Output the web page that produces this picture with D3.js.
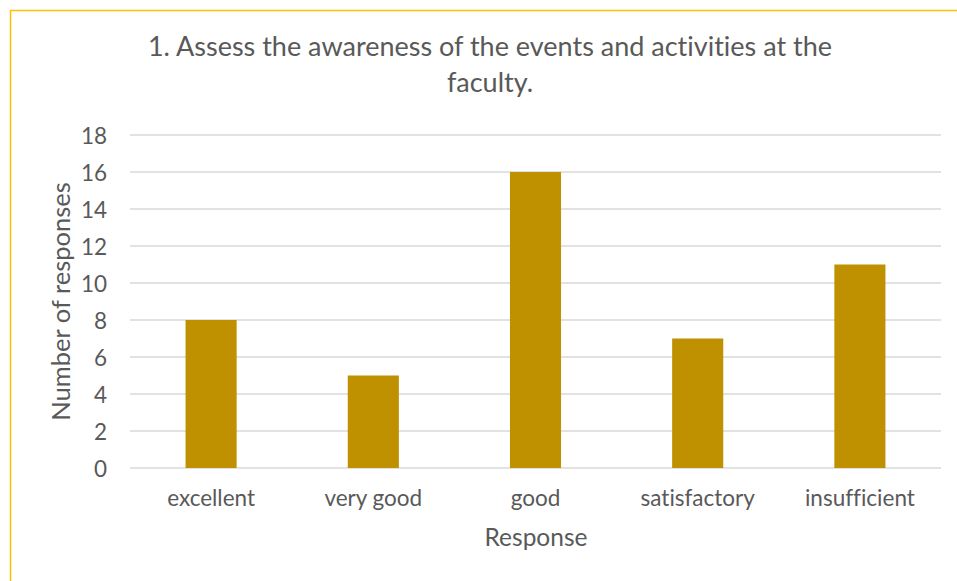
<!DOCTYPE html>
<html>
<head>
<meta charset="utf-8">
<script src="https://cdn.jsdelivr.net/npm/d3@7"></script>
<style>
  body { margin: 0; background: #ffffff; }
  svg text { font-family: Lato, "Open Sans", sans-serif; fill: #595959; font-variant-ligatures: none; }
</style>
</head>
<body>
<div id="chart"></div>
<script>
// Data
var categories = ["excellent", "very good", "good", "satisfactory", "insufficient"];
var responses = [8, 5, 16, 7, 11];
var yTicks = [0, 2, 4, 6, 8, 10, 12, 14, 16, 18];

var titleLines = ["1. Assess the awareness of the events and activities at the", "faculty."];
var xTitle = "Response";
var yTitle = "Number of responses";

// Dimensions
var w = 957, h = 581;
var plot = { left: 130, right: 941, top: 135, bottom: 468 };

var svg = d3.select("#chart")
    .append("svg")
    .attr("width", w)
    .attr("height", h);

// Chart border
svg.append("rect")
    .attr("x", 10.5)
    .attr("y", 10.5)
    .attr("width", w + 20)
    .attr("height", h + 20)
    .attr("fill", "none")
    .attr("stroke", "#ffc000")
    .attr("stroke-width", 1.5);

// Scales
var x = d3.scaleBand()
    .domain(categories)
    .range([plot.left, plot.right])
    .paddingInner(0.685)
    .paddingOuter(0.3425);

var y = d3.scaleLinear()
    .domain([0, 18])
    .range([plot.bottom, plot.top]);

// Gridlines
svg.append("g")
    .selectAll("line")
    .data(yTicks)
    .enter()
    .append("line")
    .attr("x1", plot.left)
    .attr("x2", plot.right)
    .attr("y1", function(d) { return y(d); })
    .attr("y2", function(d) { return y(d); })
    .attr("stroke", "#d9d9d9")
    .attr("stroke-width", 1.3);

// Bars
svg.append("g")
    .selectAll("rect")
    .data(responses)
    .enter()
    .append("rect")
    .attr("x", function(d, i) { return x(categories[i]); })
    .attr("y", function(d) { return y(d); })
    .attr("width", x.bandwidth())
    .attr("height", function(d) { return y(0) - y(d); })
    .attr("fill", "#bf9000");

// Y axis (labels only)
var yAxis = svg.append("g")
    .attr("transform", "translate(" + (plot.left - 23) + ",0)")
    .call(d3.axisLeft(y).tickValues(yTicks).tickSize(0).tickPadding(0));
yAxis.select(".domain").remove();
yAxis.selectAll("text")
    .attr("font-size", "22.5px")
    .attr("dy", "0.36em")
    .style("fill", "#595959");

// X axis (labels only)
var xAxis = svg.append("g")
    .attr("transform", "translate(0," + plot.bottom + ")")
    .call(d3.axisBottom(x).tickSize(0).tickPadding(0));
xAxis.select(".domain").remove();
xAxis.selectAll("text")
    .attr("font-size", "22.5px")
    .attr("y", 38)
    .attr("dy", 0)
    .style("fill", "#595959");

// Title
svg.append("g")
    .selectAll("text")
    .data(titleLines)
    .enter()
    .append("text")
    .attr("x", 490)
    .attr("y", function(d, i) { return 56 + i * 36; })
    .attr("text-anchor", "middle")
    .attr("font-size", "27px")
    .text(function(d) { return d; });

// Axis titles
svg.append("text")
    .attr("x", 536)
    .attr("y", 546)
    .attr("text-anchor", "middle")
    .attr("font-size", "24.5px")
    .text(xTitle);

svg.append("text")
    .attr("transform", "translate(70," + ((plot.top + plot.bottom) / 2) + ") rotate(-90)")
    .attr("text-anchor", "middle")
    .attr("font-size", "25.5px")
    .text(yTitle);
</script>
</body>
</html>
